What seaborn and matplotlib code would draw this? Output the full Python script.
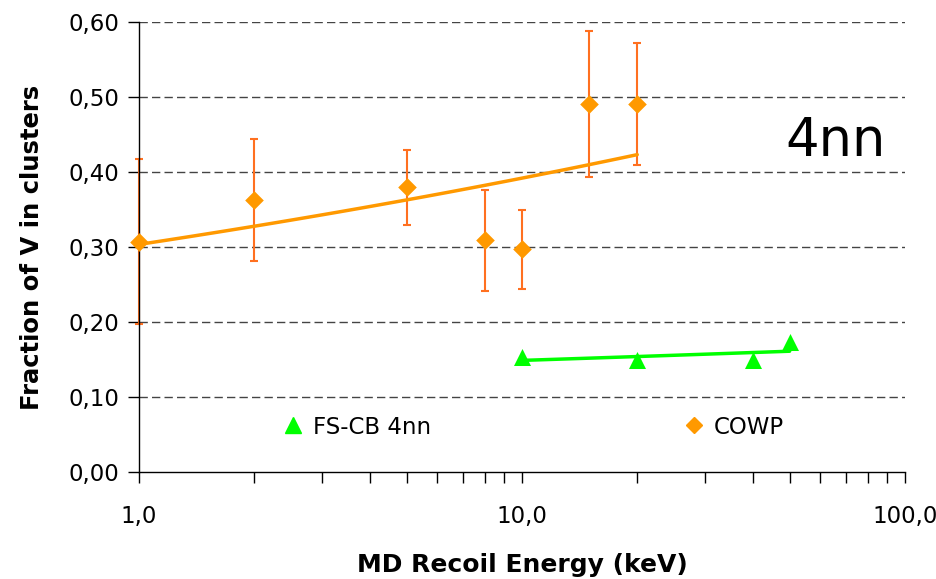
import numpy as np
import pandas as pd
import matplotlib
matplotlib.use("Agg")
import matplotlib.pyplot as plt
from matplotlib.lines import Line2D
from matplotlib.ticker import FixedLocator, LogLocator, NullFormatter, FuncFormatter
import seaborn as sns

# COWP cluster fractions with uncertainties
cowp_energy = [1, 2, 5, 8, 10, 15, 20]
cowp_frac = [0.307, 0.363, 0.380, 0.309, 0.297, 0.491, 0.491]
cowp_err = [0.110, 0.081, 0.050, 0.067, 0.053, 0.097, 0.081]

# FS-CB 4nn cluster fractions
fscb_energy = [10, 20, 40, 50]
fscb_frac = [0.153, 0.149, 0.149, 0.173]

y_ticks = [0.0, 0.1, 0.2, 0.3, 0.4, 0.5, 0.6]
x_ticks = [1, 10, 100]

ORANGE = "#FF9900"
ERR_ORANGE = "#FF7020"
GREEN = "#00FF00"


def power_fit(x, y, n=100):
    """Least-squares power-law trendline y = a * x^b over the data range."""
    x = np.asarray(x, float)
    y = np.asarray(y, float)
    b, ln_a = np.polyfit(np.log(x), np.log(y), 1)
    xs = np.logspace(np.log10(x.min()), np.log10(x.max()), n)
    return pd.DataFrame({"x": xs, "y": np.exp(ln_a) * xs ** b})


sns.set_theme(style="white")
plt.rcParams["font.family"] = ["DejaVu Sans"]
plt.rcParams["text.color"] = "black"
plt.rcParams["axes.labelcolor"] = "black"

fig = plt.figure(figsize=(9.37, 5.79), dpi=100)
ax = fig.add_axes([0.1483, 0.1848, 0.8175, 0.7772])

cowp_df = pd.DataFrame({"x": cowp_energy, "y": cowp_frac})
fscb_df = pd.DataFrame({"x": fscb_energy, "y": fscb_frac})

# error bars
eb = ax.errorbar(cowp_energy, cowp_frac, yerr=cowp_err, fmt="none",
                 ecolor=ERR_ORANGE, elinewidth=1.5, capsize=3, capthick=1.5, zorder=2)
for art in eb.lines[1] + eb.lines[2]:
    art.set_clip_on(False)

# trendlines
sns.lineplot(data=power_fit(cowp_energy, cowp_frac), x="x", y="y", ax=ax,
             color=ORANGE, linewidth=2.5, zorder=3, legend=False)
sns.lineplot(data=power_fit(fscb_energy, fscb_frac), x="x", y="y", ax=ax,
             color=GREEN, linewidth=2.5, zorder=3, legend=False)

# markers
sns.scatterplot(data=cowp_df, x="x", y="y", ax=ax, marker="D", s=90,
                color=ORANGE, edgecolor=ORANGE, linewidth=0, zorder=4,
                legend=False, clip_on=False)
sns.scatterplot(data=fscb_df, x="x", y="y", ax=ax, marker="^", s=150,
                color=GREEN, edgecolor=GREEN, linewidth=0, zorder=4,
                legend=False, clip_on=False)

ax.set_xscale("log")
ax.set_xlim(1, 100)
ax.set_ylim(0, 0.6)

ax.xaxis.set_major_locator(FixedLocator(x_ticks))
ax.xaxis.set_minor_locator(LogLocator(base=10, subs=np.arange(2, 10)))
ax.xaxis.set_minor_formatter(NullFormatter())
ax.xaxis.set_major_formatter(FuncFormatter(lambda v, p: f"{v:.1f}".replace(".", ",")))
ax.yaxis.set_major_locator(FixedLocator(y_ticks))
ax.yaxis.set_major_formatter(FuncFormatter(lambda v, p: f"{v:.2f}".replace(".", ",")))

ax.tick_params(axis="both", which="both", direction="out", length=8, width=1,
               color="black", labelsize=16.5, labelcolor="black")
ax.tick_params(axis="x", which="both", bottom=True, pad=16)
ax.tick_params(axis="y", left=True, pad=6)

for side in ("top", "right"):
    ax.spines[side].set_visible(False)
for side in ("left", "bottom"):
    ax.spines[side].set_color("black")
    ax.spines[side].set_linewidth(1)

for yv in y_ticks[1:]:
    ax.axhline(yv, color="#444444", linewidth=1, linestyle=(0, (6, 3)), zorder=1)

ax.set_xlabel("MD Recoil Energy (keV)", fontsize=18, fontweight="bold",
              labelpad=18, color="black")
ax.set_ylabel("Fraction of V in clusters", fontsize=17.5, fontweight="bold",
              labelpad=18, color="black")

ax.text(0.91, 0.735, "4nn", transform=ax.transAxes, fontsize=38,
        ha="center", va="center", color="black")

h_fscb = Line2D([], [], marker="^", linestyle="none", color=GREEN, markersize=11)
h_cowp = Line2D([], [], marker="D", linestyle="none", color=ORANGE, markersize=8)
leg1 = ax.legend([h_fscb], ["FS-CB 4nn"], loc="center left",
                 bbox_to_anchor=(0.158, 0.10), frameon=False, fontsize=16.5,
                 handletextpad=0.3, handlelength=1.1, labelcolor="black")
ax.add_artist(leg1)
ax.legend([h_cowp], ["COWP"], loc="center left",
          bbox_to_anchor=(0.681, 0.10), frameon=False, fontsize=16.5,
          handletextpad=0.3, handlelength=1.1, labelcolor="black")

fig.savefig("out.png", dpi=100)
